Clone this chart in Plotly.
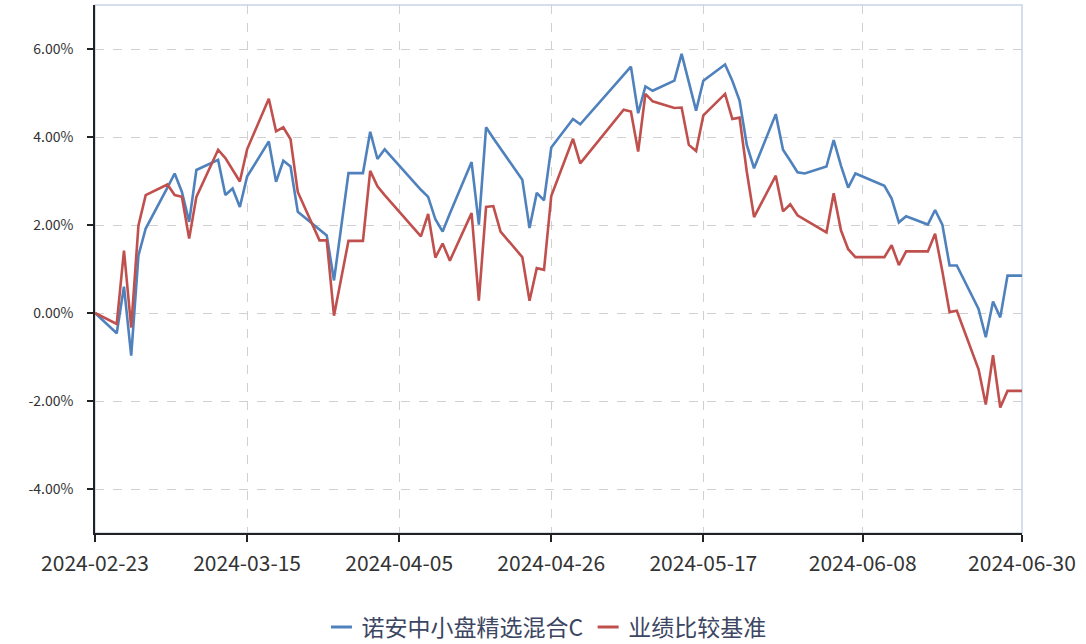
import plotly.graph_objects as go

dates = [
    "2024-02-23", "2024-02-26", "2024-02-27", "2024-02-28", "2024-02-29", "2024-03-01",
    "2024-03-04", "2024-03-05", "2024-03-06", "2024-03-07", "2024-03-08",
    "2024-03-11", "2024-03-12", "2024-03-13", "2024-03-14", "2024-03-15",
    "2024-03-18", "2024-03-19", "2024-03-20", "2024-03-21", "2024-03-22",
    "2024-03-25", "2024-03-26", "2024-03-27", "2024-03-28", "2024-03-29", "2024-03-31",
    "2024-04-01", "2024-04-02", "2024-04-03",
    "2024-04-08", "2024-04-09", "2024-04-10", "2024-04-11", "2024-04-12",
    "2024-04-15", "2024-04-16", "2024-04-17", "2024-04-18", "2024-04-19",
    "2024-04-22", "2024-04-23", "2024-04-24", "2024-04-25", "2024-04-26",
    "2024-04-29", "2024-04-30",
    "2024-05-06", "2024-05-07", "2024-05-08", "2024-05-09", "2024-05-10",
    "2024-05-13", "2024-05-14", "2024-05-15", "2024-05-16", "2024-05-17",
    "2024-05-20", "2024-05-21", "2024-05-22", "2024-05-23", "2024-05-24",
    "2024-05-27", "2024-05-28", "2024-05-29", "2024-05-30", "2024-05-31",
    "2024-06-03", "2024-06-04", "2024-06-05", "2024-06-06", "2024-06-07",
    "2024-06-11", "2024-06-12", "2024-06-13", "2024-06-14",
    "2024-06-17", "2024-06-18", "2024-06-19", "2024-06-20", "2024-06-21",
    "2024-06-24", "2024-06-25", "2024-06-26", "2024-06-27", "2024-06-28", "2024-06-30",
]

fund_returns = [
    0.00, -0.46, 0.60, -0.97, 1.31, 1.92,
    2.85, 3.17, 2.75, 2.07, 3.25,
    3.48, 2.68, 2.83, 2.41, 3.10,
    3.90, 2.98, 3.46, 3.33, 2.30,
    1.90, 1.76, 0.74, 2.00, 3.18, 3.18,
    4.12, 3.50, 3.72,
    2.80, 2.64, 2.13, 1.85, 2.26,
    3.43, 2.01, 4.22, 3.97, 3.74,
    3.03, 1.93, 2.73, 2.56, 3.76,
    4.41, 4.29,
    5.41, 5.60, 4.54, 5.15, 5.05,
    5.28, 5.89, 5.25, 4.60, 5.28,
    5.65, 5.28, 4.83, 3.82, 3.29,
    4.52, 3.71, 3.46, 3.20, 3.17,
    3.33, 3.93, 3.35, 2.85, 3.17,
    2.89, 2.60, 2.06, 2.20,
    2.01, 2.34, 2.01, 1.08, 1.08,
    0.09, -0.55, 0.26, -0.10, 0.85, 0.85,
]

benchmark_returns = [
    0.00, -0.25, 1.42, -0.33, 1.99, 2.68,
    2.92, 2.68, 2.64, 1.69, 2.64,
    3.71, 3.52, 3.27, 2.99, 3.72,
    4.87, 4.13, 4.22, 3.95, 2.75,
    1.65, 1.65, -0.06, 0.80, 1.64, 1.64,
    3.23, 2.88, 2.68,
    1.74, 2.25, 1.26, 1.58, 1.19,
    2.27, 0.28, 2.41, 2.43, 1.85,
    1.27, 0.28, 1.02, 0.98, 2.66,
    3.96, 3.40,
    4.62, 4.58, 3.67, 4.98, 4.81,
    4.66, 4.67, 3.82, 3.68, 4.49,
    4.98, 4.41, 4.44, 3.21, 2.18,
    3.12, 2.31, 2.47, 2.22, 2.12,
    1.83, 2.72, 1.88, 1.45, 1.27,
    1.27, 1.54, 1.09, 1.40,
    1.40, 1.80, 0.95, 0.02, 0.05,
    -1.28, -2.08, -0.96, -2.15, -1.77, -1.77,
]

series_names = ["诺安中小盘精选混合C", "业绩比较基准"]
series_colors = ["#4f81bd", "#c0504d"]

x_tick_dates = ["2024-02-23", "2024-03-15", "2024-04-05", "2024-04-26",
                "2024-05-17", "2024-06-08", "2024-06-30"]
y_tick_values = [-4, -2, 0, 2, 4, 6]

FONT = "Noto Sans CJK SC, Microsoft YaHei, sans-serif"

fig = go.Figure()
for name, vals, col in zip(series_names, [fund_returns, benchmark_returns], series_colors):
    fig.add_trace(go.Scatter(
        x=dates, y=vals, mode="lines", name=name,
        line=dict(color=col, width=2.6), showlegend=False,
    ))
# legend-only entries with short line symbols
for name, col in zip(series_names, series_colors):
    fig.add_trace(go.Scatter(
        x=[None], y=[None], mode="markers", name=name,
        marker=dict(symbol="line-ew-open", size=15, color=col,
                    line=dict(color=col, width=3)),
        showlegend=True,
    ))

fig.update_layout(
    width=1086, height=644,
    margin=dict(l=95, r=64, t=5, b=111, autoexpand=False),
    paper_bgcolor="white", plot_bgcolor="white",
    font=dict(family=FONT, size=15, color="#333333"),
    showlegend=True,
    legend=dict(orientation="h", x=0.487, xanchor="center", y=-0.178, yanchor="middle",
                font=dict(size=23, color="#3c4663"), itemwidth=30,
                traceorder="normal"),
    shapes=[dict(type="rect", xref="paper", yref="paper", x0=0, x1=1, y0=0, y1=1,
                 line=dict(color="#c6d3e6", width=1.5), layer="below")],
)
fig.update_xaxes(
    type="date",
    range=[x_tick_dates[0], x_tick_dates[-1]],
    tickmode="array", tickvals=x_tick_dates, ticktext=x_tick_dates,
    showgrid=True, gridcolor="#d0d0d0", griddash="dash", gridwidth=1,
    showline=True, linecolor="#222222", linewidth=1.5,
    ticks="outside", ticklen=7, tickcolor="#222222", tickwidth=1.5,
    tickfont=dict(size=21, color="#333333"),
    ticklabelstandoff=4,
    automargin=False,
    zeroline=False,
)
fig.update_yaxes(
    range=[-5, 7],
    tickmode="array", tickvals=y_tick_values,
    ticktext=[f"{v:.2f}%" for v in y_tick_values],
    showgrid=True, gridcolor="#d0d0d0", griddash="dash", gridwidth=1,
    showline=True, linecolor="#222222", linewidth=1.5,
    ticks="outside", ticklen=6, tickcolor="#222222", tickwidth=1.5,
    tickfont=dict(size=14, color="#333333"),
    ticklabelstandoff=11,
    automargin=False,
    zeroline=False,
)

fig.write_html("out.html", config={"displayModeBar": False},
               post_script="document.body.style.margin='0px';")
